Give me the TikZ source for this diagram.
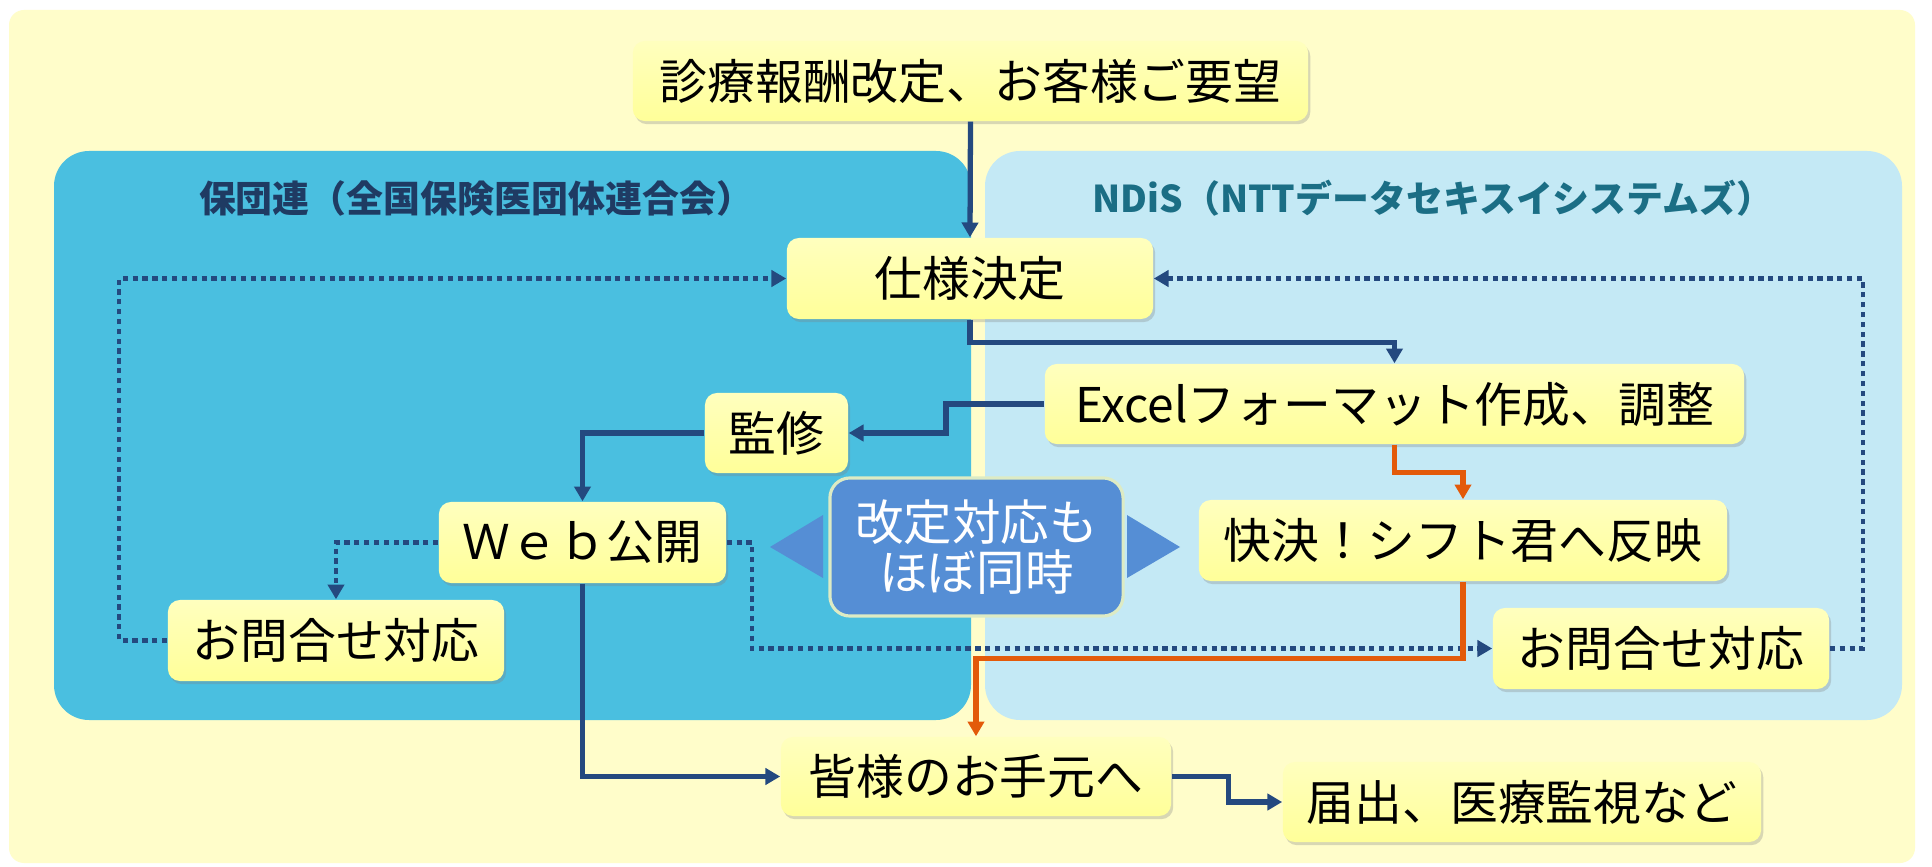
\documentclass[tikz,border=0pt]{standalone}
\usepackage{fontspec}
\setmainfont{Noto Sans CJK JP}
\usepackage{tikz}
\usetikzlibrary{arrows.meta}
\usetikzlibrary{shadows}
\definecolor{bgyellow}{HTML}{FFFDCA}
\definecolor{hoblue}{HTML}{4ABFE0}
\definecolor{ndblue}{HTML}{C4E9F5}
\definecolor{boxtop}{HTML}{FFFFBE}
\definecolor{boxbot}{HTML}{FFFF99}
\definecolor{mnavy}{HTML}{24497F}
\definecolor{morange}{HTML}{E35A0A}
\definecolor{hotext}{HTML}{1F3B63}
\definecolor{ndtext}{HTML}{1B6E85}
\definecolor{simfill}{HTML}{558ED5}
\definecolor{simedge}{HTML}{DDEBC4}
\tikzset{box/.style = {rounded corners=0.12cm, top color=boxtop, bottom color=boxbot,
                       inner sep=0, font=\fontsize{13.6pt}{16pt}\selectfont,
                       drop shadow={opacity=0.3, shadow xshift=0.6pt, shadow yshift=-0.9pt}}}
\tikzset{simul/.style = {rounded corners=0.2cm, fill=simfill, draw=simedge, line width=0.9pt,
                         text=white, align=center, inner sep=0,
                         font=\fontsize{13.8pt}{14.2pt}\selectfont}}
\tikzset{flow/.style = {mnavy, line width=1.5pt, -{Triangle[length=4.2pt, width=4.6pt]}}}
\tikzset{orflow/.style = {flow, morange}}
\tikzset{query/.style = {mnavy, line width=1.3pt, dash pattern=on 1.5pt off 1.3pt,
                         -{Triangle[length=4.2pt, width=4.6pt]}}}
\tikzset{title/.style = {inner sep=0, font=\fontsize{10.5pt}{12pt}\selectfont\bfseries}}

\begin{document}
\begin{tikzpicture}[x=0.01cm, y=-0.01cm]
  \useasboundingbox (0, 0) rectangle (1932, 867);
  \fill [white] (0, 0) rectangle (1932, 867);

  % backgrounds
  \fill [bgyellow, rounded corners=0.15cm] (9, 10) rectangle (1915, 863);
  \fill [hoblue, rounded corners=0.35cm] (54, 151) rectangle (971, 720);
  \fill [ndblue, rounded corners=0.35cm] (985, 151) rectangle (1902, 720);

  \node [title, hotext] (hotitle) at (476, 198) {保団連（全国保険医団体連合会）};
  \node [title, ndtext] (ndtitle) at (1433, 198) {NDiS（NTTデータセキスイシステムズ）};

  % boxes
  \node [box, minimum width=6.75cm, minimum height=0.8cm] (req) at (970.5, 81) {診療報酬改定、お客様ご要望};
  \node [box, minimum width=3.66cm, minimum height=0.81cm] (spec) at (970, 278.5) {仕様決定};
  \node [box, minimum width=6.99cm, minimum height=0.8cm] (excel) at (1394.5, 404) {Excelフォーマット作成、調整};
  \node [box, minimum width=1.43cm, minimum height=0.8cm] (kanshu) at (776.5, 433) {監修};
  \node [box, minimum width=2.87cm, minimum height=0.81cm] (web) at (582.5, 542.5) {Ｗｅｂ公開};
  \node [box, minimum width=3.36cm, minimum height=0.81cm] (inqL) at (336, 640.5) {お問合せ対応};
  \node [box, minimum width=5.28cm, minimum height=0.81cm] (kaiketsu) at (1463, 540.5) {快決！シフト君へ反映};
  \node [box, minimum width=3.36cm, minimum height=0.81cm] (inqR) at (1661, 648.5) {お問合せ対応};
  \node [box, minimum width=3.9cm, minimum height=0.79cm] (minasama) at (976, 776.5) {皆様のお手元へ};
  \node [box, minimum width=4.78cm, minimum height=0.8cm] (todokede) at (1522, 802) {届出、医療監視など};

  % middle
  \fill [simfill] (770, 547) -- (823, 515) -- (823, 578) -- cycle;
  \fill [simfill] (1180, 547) -- (1127, 515) -- (1127, 578) -- cycle;
  \node [simul, minimum width=2.93cm, minimum height=1.38cm] (simul) at (976.5, 547) {改定対応も\\ほぼ同時};

  % connectors
  \draw [flow] (req.south) -- (spec.north);
  \draw [flow] (spec.south) -- ++(0, 23) -| (excel.north);
  \draw [flow] (excel.west) -- ++(-98, 0) |- (kanshu.east);
  \draw [flow] (kanshu.west) -| (web.north);
  \draw [query] (web.west) -| (inqL.north);
  \draw [query] (inqL.west) -- ++(-48, 0) |- (spec.west);
  \draw [query] (web.east) -- ++(25, 0) |- (inqR.west);
  \draw [query] (inqR.east) -- ++(33, 0) |- (spec.east);
  \draw [orflow] (excel.south) -- ++(0, 28) -| (kaiketsu.north);
  \draw [orflow] (kaiketsu.south) -- ++(0, 77) -| (minasama.north);
  \draw [flow] (web.south) |- (minasama.west);
  \draw [flow] (minasama.east) -- ++(57, 0) |- (todokede.west);
\end{tikzpicture}
\end{document}
